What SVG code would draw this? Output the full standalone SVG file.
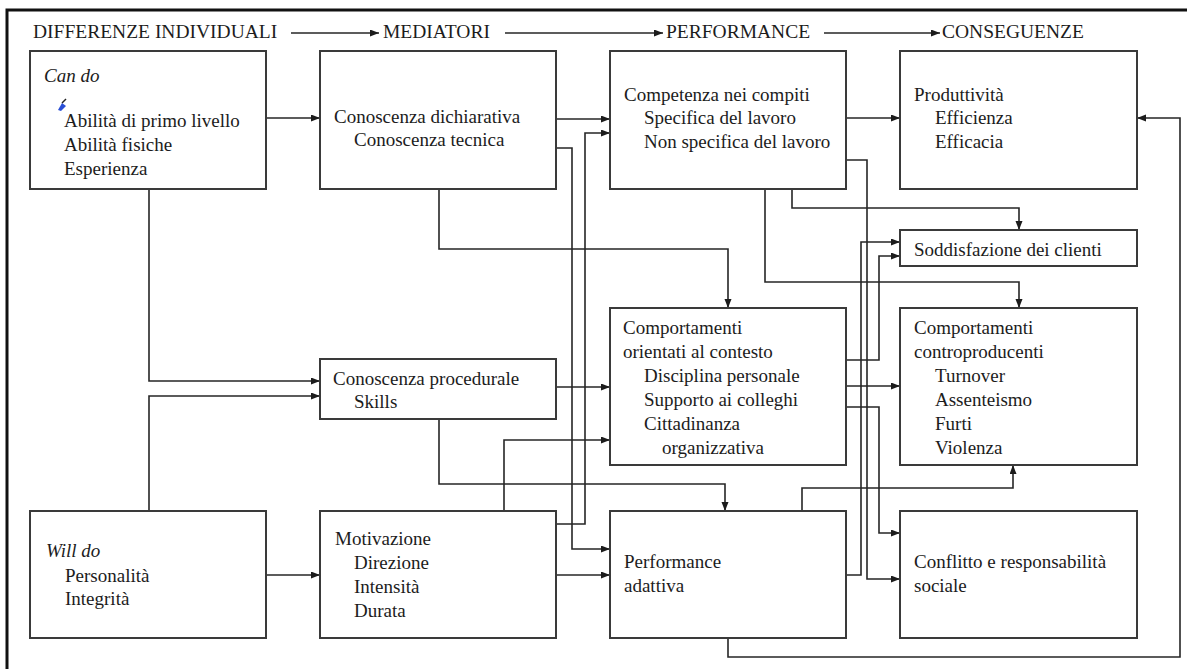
<svg xmlns="http://www.w3.org/2000/svg" width="1187" height="669" viewBox="0 0 1187 669">
  <style>
    .box { fill: #ffffff; stroke: #3a3a3a; stroke-width: 2; }
    .t { font-family: "Liberation Serif", "Times New Roman", serif; font-size: 19px; fill: #1c1c1c; }
    .it { font-style: italic; }
    .hd { font-family: "Liberation Serif", "Times New Roman", serif; font-size: 19.5px; fill: #1c1c1c; }
    .wire { fill: none; stroke: #262626; stroke-width: 1.6; }
    .arr { marker-end: url(#head); }
  </style>
  <defs>
    <marker id="head" markerUnits="userSpaceOnUse" markerWidth="10" markerHeight="8" refX="9" refY="3.5" orient="auto">
      <path d="M0,0 L9,3.5 L0,7 z" fill="#1c1c1c"/>
    </marker>
  </defs>

  <rect width="1187" height="669" fill="#ffffff"/>
  <!-- page frame -->
  <path d="M7,669 V10 H1187" fill="none" stroke="#111" stroke-width="3"/>

  <!-- column headings -->
  <g id="headings">
    <text class="hd" x="33" y="38">DIFFERENZE INDIVIDUALI</text>
    <text class="hd" x="383" y="38">MEDIATORI</text>
    <text class="hd" x="666" y="38">PERFORMANCE</text>
    <text class="hd" x="942" y="38">CONSEGUENZE</text>
    <path class="wire arr" d="M291,33 H379"/>
    <path class="wire arr" d="M505,33 H663"/>
    <path class="wire arr" d="M824,33 H940"/>
  </g>

  <!-- connectors -->
  <g id="connectors" class="wire">
    <path class="arr" d="M266,118 H320"/>
    <path class="arr" d="M149,189 V381 H320"/>
    <path class="arr" d="M149,511 V396 H320"/>
    <path class="arr" d="M266,575 H320"/>
    <path class="arr" d="M556,119 H610"/>
    <path class="arr" d="M556,148 H572 V549 H610"/>
    <path class="arr" d="M439,189 V249 H728 V308"/>
    <path class="arr" d="M556,387 H610"/>
    <path class="arr" d="M439,419 V484 H725 V511"/>
    <path class="arr" d="M504,511 V440 H610"/>
    <path class="arr" d="M556,524 H585 V133 H610"/>
    <path class="arr" d="M556,575 H610"/>
    <path class="arr" d="M846,118 H900"/>
    <path class="arr" d="M792,189 V208 H1019 V230"/>
    <path class="arr" d="M765,189 V282 H1019 V308"/>
    <path class="arr" d="M846,160 H867 V579 H900"/>
    <path class="arr" d="M846,360 H879 V256 H900"/>
    <path class="arr" d="M846,386 H900"/>
    <path class="arr" d="M846,407 H879 V533 H900"/>
    <path class="arr" d="M846,575 H861 V242 H900"/>
    <path class="arr" d="M802,511 V488 H1013 V465"/>
    <path class="arr" d="M728,638 V657 H1180 V118 H1137"/>
  </g>

  <g id="can-do">
    <rect class="box" x="30" y="51" width="236" height="138"/>
    <text class="t it" x="44" y="82">Can do</text>
    <path d="M58,110 L62,103 L66,106 L61,111 z" fill="#2a4fd6"/>
    <path d="M62,103 L66,99" stroke="#222" stroke-width="1.5"/>
    <text class="t" x="64" y="127">Abilità di primo livello</text>
    <text class="t" x="64" y="151">Abilità fisiche</text>
    <text class="t" x="64" y="175">Esperienza</text>
  </g>

  <g id="conoscenza-dichiarativa">
    <rect class="box" x="320" y="51" width="236" height="138"/>
    <text class="t" x="334" y="123">Conoscenza dichiarativa</text>
    <text class="t" x="354" y="146">Conoscenza tecnica</text>
  </g>

  <g id="competenza">
    <rect class="box" x="610" y="51" width="236" height="138"/>
    <text class="t" x="624" y="101">Competenza nei compiti</text>
    <text class="t" x="644" y="124">Specifica del lavoro</text>
    <text class="t" x="644" y="148">Non specifica del lavoro</text>
  </g>

  <g id="produttivita">
    <rect class="box" x="900" y="51" width="237" height="138"/>
    <text class="t" x="914" y="101">Produttività</text>
    <text class="t" x="935" y="124">Efficienza</text>
    <text class="t" x="935" y="148">Efficacia</text>
  </g>

  <g id="soddisfazione">
    <rect class="box" x="900" y="230" width="237" height="36"/>
    <text class="t" x="914" y="256">Soddisfazione dei clienti</text>
  </g>

  <g id="comportamenti-contesto">
    <rect class="box" x="610" y="308" width="236" height="157"/>
    <text class="t" x="623" y="334">Comportamenti</text>
    <text class="t" x="623" y="358">orientati al contesto</text>
    <text class="t" x="644" y="382">Disciplina personale</text>
    <text class="t" x="644" y="406">Supporto ai colleghi</text>
    <text class="t" x="644" y="430">Cittadinanza</text>
    <text class="t" x="662" y="454">organizzativa</text>
  </g>

  <g id="comportamenti-controproducenti">
    <rect class="box" x="900" y="308" width="237" height="157"/>
    <text class="t" x="914" y="334">Comportamenti</text>
    <text class="t" x="914" y="358">controproducenti</text>
    <text class="t" x="935" y="382">Turnover</text>
    <text class="t" x="935" y="406">Assenteismo</text>
    <text class="t" x="935" y="430">Furti</text>
    <text class="t" x="935" y="454">Violenza</text>
  </g>

  <g id="conoscenza-procedurale">
    <rect class="box" x="320" y="359" width="236" height="60"/>
    <text class="t" x="333" y="385">Conoscenza procedurale</text>
    <text class="t" x="354" y="408">Skills</text>
  </g>

  <g id="will-do">
    <rect class="box" x="30" y="511" width="236" height="127"/>
    <text class="t it" x="46" y="557">Will do</text>
    <text class="t" x="65" y="582">Personalità</text>
    <text class="t" x="65" y="605">Integrità</text>
  </g>

  <g id="motivazione">
    <rect class="box" x="320" y="511" width="236" height="127"/>
    <text class="t" x="335" y="545">Motivazione</text>
    <text class="t" x="354" y="569">Direzione</text>
    <text class="t" x="354" y="593">Intensità</text>
    <text class="t" x="354" y="617">Durata</text>
  </g>

  <g id="performance-adattiva">
    <rect class="box" x="610" y="511" width="236" height="127"/>
    <text class="t" x="624" y="568">Performance</text>
    <text class="t" x="624" y="592">adattiva</text>
  </g>

  <g id="conflitto">
    <rect class="box" x="900" y="511" width="237" height="127"/>
    <text class="t" x="914" y="568">Conflitto e responsabilità</text>
    <text class="t" x="914" y="592">sociale</text>
  </g>
</svg>
